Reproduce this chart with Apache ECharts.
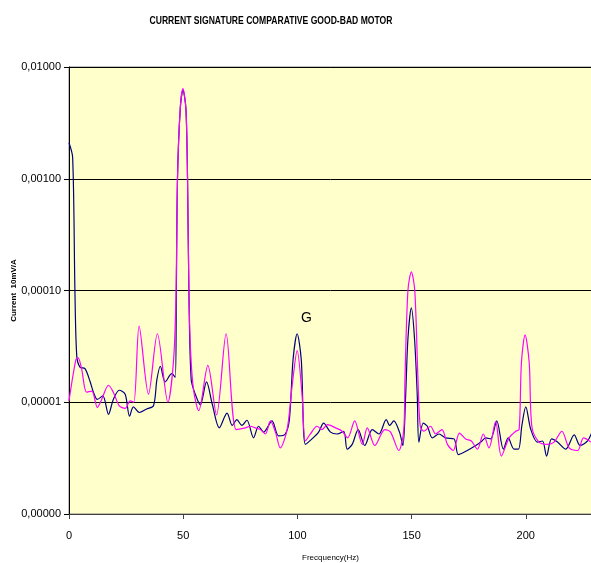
<!DOCTYPE html>
<html>
<head>
<meta charset="utf-8">
<script src="https://cdn.jsdelivr.net/npm/echarts@6/dist/echarts.min.js"></script>
<style>html,body{margin:0;padding:0;background:#fff}#c{width:591px;height:563px}</style>
</head>
<body>
<div id="c"></div>
<script>
var titleText = 'CURRENT SIGNATURE COMPARATIVE GOOD-BAD MOTOR';
var xAxisName = 'Frecquency(Hz)';
var yAxisName = 'Current  10mV/A';
var annotationText = 'G';
var annotationFreq = 104;
var annotationValue = 5.7e-5;

var goodFreq = [0,1.6,2.6,3.4,4.8,7,9.2,10.7,12.4,14.8,17.3,19.4,22,24.6,26.5,28.2,30.8,34,37,38.5,40,42.1,45,46.5,47.0,47.5,48.7,49.9,51.2,51.9,52.5,53.5,55.3,57.5,60.2,62.8,65.8,69.2,71.5,73.5,75.7,77.9,80.8,83,85.2,88.9,91.8,94.7,96.5,98.1,99.9,101.7,103.5,106.4,109.3,111.5,114.5,117.4,120.3,121.8,124,126.6,129.5,132.8,135.7,138.9,140.4,142.2,144.7,146.2,147.4,148.4,149.9,151.3,152.5,153.2,155.1,156.9,159.1,162,164.9,168.6,170.5,174.4,178.1,180.3,182.5,184.6,187.3,190.2,192.3,194.9,196.8,198.3,200,202.2,205.1,207.3,209.1,211.3,213.9,217.5,221.2,223.8,227,229];
var goodVals = [2.1e-3,1.55e-3,9.8e-5,2.6e-5,2.06e-5,2.0e-5,1.54e-5,1.23e-5,1.06e-5,1.14e-5,0.78e-5,1.06e-5,1.28e-5,1.18e-5,0.75e-5,0.91e-5,0.81e-5,0.87e-5,0.93e-5,1.6e-5,2.1e-5,1.52e-5,1.8e-5,1.67e-5,1.0e-4,1.0e-3,4.2e-3,6.2e-3,4.2e-3,1.0e-3,9.7e-5,1.6e-5,1.18e-5,0.95e-5,1.52e-5,0.95e-5,0.59e-5,0.8e-5,0.62e-5,0.7e-5,0.62e-5,0.69e-5,0.48e-5,0.61e-5,0.54e-5,0.68e-5,0.5e-5,0.52e-5,0.7e-5,2.4e-5,4.1e-5,2.4e-5,0.42e-5,0.47e-5,0.54e-5,0.65e-5,0.54e-5,0.52e-5,0.55e-5,0.38e-5,0.42e-5,0.57e-5,0.41e-5,0.57e-5,0.52e-5,0.7e-5,0.62e-5,0.68e-5,0.54e-5,0.41e-5,1.14e-5,3.7e-5,7.0e-5,3.7e-5,1.14e-5,0.44e-5,0.65e-5,0.61e-5,0.48e-5,0.52e-5,0.48e-5,0.47e-5,0.34e-5,0.37e-5,0.41e-5,0.44e-5,0.48e-5,0.47e-5,0.68e-5,0.38e-5,0.48e-5,0.38e-5,0.38e-5,0.62e-5,0.91e-5,0.57e-5,0.44e-5,0.45e-5,0.33e-5,0.47e-5,0.44e-5,0.38e-5,0.51e-5,0.41e-5,0.45e-5,0.54e-5];

var badFreq = [0,3,4,5.5,7.7,10,12.4,14.3,17.3,19.4,22,24.6,26.8,28.4,30.7,34.8,38.7,43.3,45.8,46.9,47.5,48.7,49.9,51.2,51.9,52.5,53.2,54.5,56.8,60.8,64.6,68.8,73.2,77.2,79.4,81.6,83.8,86,88.2,90.4,92.5,95.5,97.7,99.9,102,103.5,105.7,108.6,110.8,113.2,116.7,119.6,122,125.1,128.4,130.6,133.9,138.3,140.8,144.4,146.6,147.1,148.4,149.9,151.4,152.8,153.8,155.4,158.3,160.5,163.3,165.7,168.2,171,173.7,176.2,178.8,181.4,183.9,186.8,189.3,192.7,195.6,197.1,198.1,199.7,201.5,202.7,205.8,209.5,212.4,215.8,219,222.7,225.3,228.5];
var badVals = [1.03e-5,2.4e-5,2.5e-5,2.0e-5,1.23e-5,1.26e-5,0.9e-5,1.06e-5,1.42e-5,1.23e-5,0.93e-5,0.88e-5,1.03e-5,1.0e-5,4.8e-5,1.18e-5,4.1e-5,1.0e-5,2.4e-5,1.0e-4,1.0e-3,4.2e-3,6.4e-3,4.2e-3,1.0e-3,1.0e-4,3.0e-5,1.3e-5,0.84e-5,2.14e-5,0.77e-5,4.1e-5,0.57e-5,0.59e-5,0.61e-5,0.59e-5,0.57e-5,0.52e-5,0.68e-5,0.54e-5,0.39e-5,0.57e-5,1.4e-5,2.9e-5,1.2e-5,0.45e-5,0.52e-5,0.61e-5,0.57e-5,0.63e-5,0.59e-5,0.55e-5,0.48e-5,0.68e-5,0.42e-5,0.59e-5,0.41e-5,0.57e-5,0.54e-5,0.37e-5,0.57e-5,1.6e-5,1.0e-4,1.47e-4,1.0e-4,1.6e-5,0.61e-5,0.55e-5,0.61e-5,0.52e-5,0.57e-5,0.42e-5,0.37e-5,0.53e-5,0.47e-5,0.45e-5,0.38e-5,0.52e-5,0.39e-5,0.67e-5,0.33e-5,0.48e-5,0.55e-5,0.57e-5,2.27e-5,4.0e-5,2.27e-5,0.6e-5,0.44e-5,0.42e-5,0.44e-5,0.55e-5,0.39e-5,0.37e-5,0.48e-5,0.44e-5];

function pairs(xs, ys){ return xs.map(function(x,i){ return [x, ys[i]]; }); }

var chart = echarts.init(document.getElementById('c'), null, {renderer:'canvas'});
var font = '"Liberation Sans", Arial, sans-serif';
var option = {
  animation: false,
  backgroundColor: '#ffffff',
  grid: {left: 69, right: -1, top: 67, bottom: 49, containLabel: false, outerBoundsMode: 'none',
         show: true, backgroundColor: '#FFFFCC', borderColor: '#808080', borderWidth: 1},
  xAxis: {
    type: 'value', min: 0, max: 229, interval: 50,
    name: xAxisName, nameLocation: 'middle', nameGap: 40, nameMoveOverlap: false,
    nameTextStyle: {fontFamily: font, fontSize: 8, color: '#000'},
    axisLine: {show: true, lineStyle: {color: '#404040', width: 1}},
    axisTick: {show: true, inside: false, length: 5, lineStyle: {color: '#404040'}},
    axisLabel: {showMaxLabel: false, margin: 16, fontFamily: font, fontSize: 11, color: '#000'},
    splitLine: {show: false}
  },
  yAxis: {
    type: 'log', logBase: 10, min: 1e-6, max: 1e-2,
    name: yAxisName, nameLocation: 'middle', nameGap: 51, nameRotate: 90, nameMoveOverlap: false,
    nameTextStyle: {fontFamily: font, fontSize: 8, fontWeight: 'bold', color: '#000'},
    axisLine: {show: true, lineStyle: {color: '#000', width: 1}},
    axisTick: {show: true, inside: false, length: 5, lineStyle: {color: '#000'}},
    axisLabel: {margin: 8, fontFamily: font, fontSize: 11, color: '#000',
      formatter: function(v){ return v.toFixed(5).replace('.', ','); }},
    splitLine: {show: true, lineStyle: {color: '#000', width: 1}}
  },
  series: [
    {name: 'Good motor', type: 'line', data: pairs(goodFreq, goodVals), smooth: 0.3, showSymbol: false,
     lineStyle: {color: '#000080', width: 1.2}, itemStyle: {color: '#000080'}, z: 2},
    {name: 'Bad motor', type: 'line', data: pairs(badFreq, badVals), smooth: 0.3, showSymbol: false,
     lineStyle: {color: '#FF00FF', width: 1.2}, itemStyle: {color: '#FF00FF'}, z: 3,
     markPoint: {symbol: 'circle', symbolSize: 2, itemStyle: {color: 'rgba(0,0,0,0)'},
       data: [{coord: [annotationFreq, annotationValue], value: annotationText}],
       label: {show: true, formatter: annotationText, fontFamily: font, fontSize: 14, color: '#000', position: 'inside'}}}
  ],
  graphic: [
    {type: 'text', x: 271, y: 21, scaleX: 0.78, silent: true,
     style: {text: titleText, x: 0, y: 0, align: 'center', verticalAlign: 'middle',
       font: 'bold 11px "Liberation Sans", Arial, sans-serif', fill: '#000'}}
  ]
};
chart.setOption(option);
</script>
</body>
</html>
